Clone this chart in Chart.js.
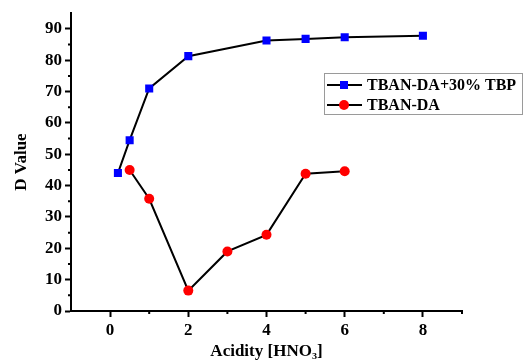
<!DOCTYPE html>
<html>
<head>
<meta charset="utf-8">
<script src="https://cdn.jsdelivr.net/npm/chart.js@4.4.0/dist/chart.umd.min.js"></script>
<style>
  body { margin: 0; background: #fff; }
  #wrap { width: 524px; height: 363px; position: relative; }
</style>
</head>
<body>
<div id="wrap"><canvas id="Chart1"></canvas></div>
<script>
// data
var acidityTbp = [0.2, 0.5, 1, 2, 4, 5, 6, 8];
var dValueTbp = [44, 54.5, 71, 81.3, 86.3, 86.8, 87.3, 87.8];
var acidity = [0.5, 1, 2, 3, 4, 5, 6];
var dValue = [45, 35.8, 6.5, 19, 24.3, 43.8, 44.6];
var seriesLabels = ['TBAN-DA+30% TBP', 'TBAN-DA'];

var xTicks = [0, 2, 4, 6, 8];
var xMinorTicks = [1, 3, 5, 7, 9];
var yTicks = [0, 10, 20, 30, 40, 50, 60, 70, 80, 90];
var yMinorTicks = [5, 15, 25, 35, 45, 55, 65, 75, 85];

function toPoints(xs, ys) {
    return xs.map(function (x, i) { return {x: x, y: ys[i]}; });
}

var serif = "'Liberation Serif', 'Times New Roman', serif";

// short minor ticks on both axes
var minorTicks = {
    id: 'minorTicks',
    afterDraw: function (chart) {
        var ctx = chart.ctx;
        var xs = chart.scales.x, ys = chart.scales.y;
        ctx.save();
        ctx.strokeStyle = '#000';
        ctx.lineWidth = 2;
        ctx.beginPath();
        xMinorTicks.forEach(function (v) {
            var px = xs.getPixelForValue(v);
            ctx.moveTo(px, xs.top);
            ctx.lineTo(px, xs.top + 3);
        });
        yMinorTicks.forEach(function (v) {
            var py = ys.getPixelForValue(v);
            ctx.moveTo(ys.right, py);
            ctx.lineTo(ys.right - 3, py);
        });
        ctx.stroke();
        ctx.restore();
    }
};

// boxed legend inside the plot, line + marker samples
var boxLegend = {
    id: 'boxLegend',
    afterDraw: function (chart) {
        var ctx = chart.ctx;
        var left = 324, top = 73, w = 199, h = 42;
        ctx.save();
        ctx.fillStyle = '#fff';
        ctx.fillRect(left, top, w, h);
        ctx.strokeStyle = '#9a9a9a';
        ctx.lineWidth = 1;
        ctx.strokeRect(left + 0.5, top + 0.5, w - 1, h - 1);
        chart.data.datasets.forEach(function (ds, i) {
            var cy = top + 12 + i * 20;
            ctx.strokeStyle = ds.borderColor;
            ctx.lineWidth = 2;
            ctx.beginPath();
            ctx.moveTo(left + 3, cy);
            ctx.lineTo(left + 38, cy);
            ctx.stroke();
            ctx.fillStyle = ds.pointBackgroundColor;
            ctx.beginPath();
            if (ds.pointStyle === 'rect') {
                var s = ds.pointRadius * Math.SQRT1_2;
                ctx.rect(left + 20 - s, cy - s, 2 * s, 2 * s);
            } else {
                ctx.arc(left + 20, cy, ds.pointRadius, 0, Math.PI * 2);
            }
            ctx.fill();
            ctx.fillStyle = '#000';
            ctx.font = 'bold 16px ' + serif;
            ctx.textBaseline = 'middle';
            ctx.fillText(ds.label, left + 43, cy + 1);
        });
        ctx.restore();
    }
};

var ctx = document.getElementById('Chart1').getContext('2d');
var myChart = new Chart(ctx, {
    type: 'scatter',
    data: {
        datasets: [{
            label: seriesLabels[0],
            data: toPoints(acidityTbp, dValueTbp),
            showLine: true,
            borderColor: '#000',
            borderWidth: 2,
            pointStyle: 'rect',
            pointRadius: 5.7,
            pointBorderWidth: 0,
            pointBackgroundColor: '#0000ff',
            pointBorderColor: '#0000ff'
        }, {
            label: seriesLabels[1],
            data: toPoints(acidity, dValue),
            showLine: true,
            borderColor: '#000',
            borderWidth: 2,
            pointStyle: 'circle',
            pointRadius: 5,
            pointBorderWidth: 0,
            pointBackgroundColor: '#ff0000',
            pointBorderColor: '#ff0000'
        }]
    },
    options: {
        responsive: true,
        maintainAspectRatio: false,
        animation: false,
        layout: {padding: {top: 12, right: 62, left: 0, bottom: 0}},
        plugins: {
            legend: {display: false},
            tooltip: {enabled: false}
        },
        scales: {
            x: {
                type: 'linear',
                min: -1,
                max: 9,
                afterBuildTicks: function (scale) {
                    scale.ticks = xTicks.map(function (v) { return {value: v}; });
                },
                afterFit: function (scale) { scale.height = 52; },
                grid: {drawOnChartArea: false, tickLength: 6, tickWidth: 2, tickColor: '#000'},
                border: {color: '#000', width: 2},
                ticks: {color: '#000', padding: 3, font: {family: serif, size: 17, weight: 'bold'}},
                title: {
                    display: true,
                    text: 'Acidity [HNO₃]',
                    color: '#000',
                    padding: {top: 0, bottom: 1},
                    font: {family: serif, size: 17, weight: 'bold'}
                }
            },
            y: {
                type: 'linear',
                min: 0,
                max: 95,
                afterBuildTicks: function (scale) {
                    scale.ticks = yTicks.map(function (v) { return {value: v}; });
                },
                afterFit: function (scale) { scale.width = 71; },
                grid: {drawOnChartArea: false, tickLength: 6, tickWidth: 2, tickColor: '#000'},
                border: {color: '#000', width: 2},
                ticks: {color: '#000', padding: 3, font: {family: serif, size: 17, weight: 'bold'}},
                title: {
                    display: true,
                    text: 'D Value',
                    color: '#000',
                    padding: {top: 11, bottom: 0},
                    font: {family: serif, size: 17, weight: 'bold'}
                }
            }
        }
    },
    plugins: [minorTicks, boxLegend]
});
</script>
</body>
</html>
